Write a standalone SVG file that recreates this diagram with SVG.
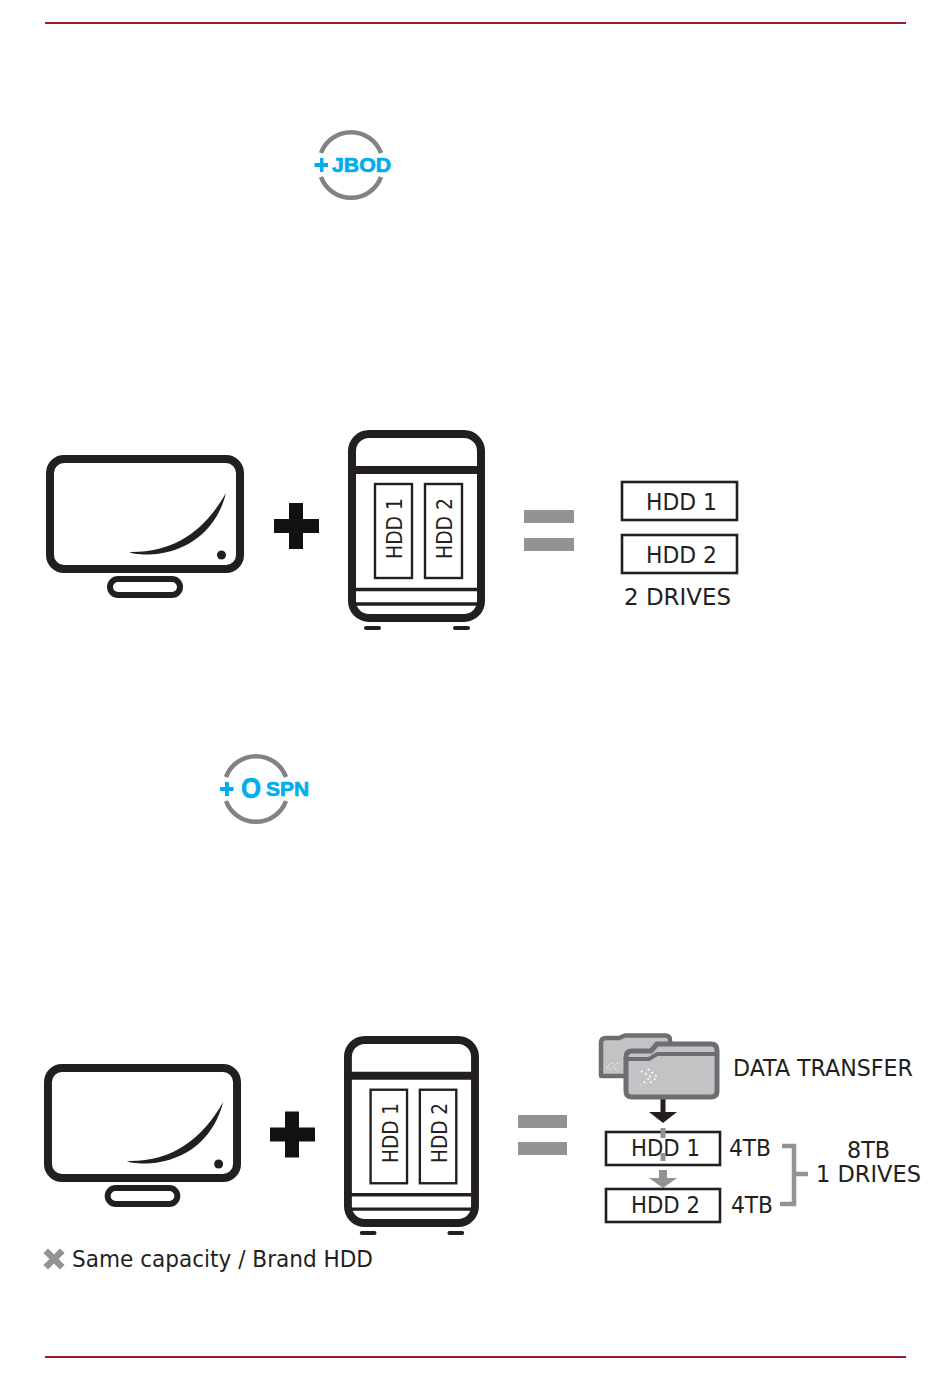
<svg xmlns="http://www.w3.org/2000/svg" xmlns:xlink="http://www.w3.org/1999/xlink" width="950" height="1381" viewBox="0 0 950 1381">
<style>
.t{font-family:"DejaVu Sans",sans-serif;font-size:23px;fill:#231f20}
.r{font-size:20.500px}
.b{font-family:"Liberation Sans",Arial,sans-serif;font-weight:bold;fill:#00aeef;stroke:#00aeef;stroke-width:.7}
.k{fill:none;stroke:#231f20}
.g{fill:#939393}
.red{stroke:#a0182f;stroke-width:2}
.arc{fill:none;stroke:#808285;stroke-width:4.500}
.box{fill:#fff;stroke:#231f20;stroke-width:2.600}
</style>
<defs>
<g id="monitor">
<rect class="k" x="50" y="459" width="190" height="110" rx="14" stroke-width="8"/>
<rect class="k" x="110" y="579" width="70" height="16" rx="8" stroke-width="6"/>
<path d="M226 493C205 530 175 553 129 552C135 555 150 555 160 553.500C195 548 218 525 226 493Z" fill="#231f20"/>
<circle cx="221.500" cy="555" r="4.500" fill="#231f20"/>
</g>
<g id="nas">
<rect class="k" x="352" y="434" width="129" height="184" rx="17" stroke-width="8"/>
<path d="M352 470H481" class="k" stroke-width="8"/>
<path d="M352 589.500H481" class="k" stroke-width="3.500"/>
<path d="M352 604H481" class="k" stroke-width="3.500"/>
<path d="M366 628H379M455 628H468" class="k" stroke-width="4" stroke-linecap="round"/>
<rect class="k" x="375" y="484" width="37" height="94" stroke-width="2.400"/>
<rect class="k" x="425" y="484" width="37" height="94" stroke-width="2.400"/>
</g>
<path id="plus" d="M289 503H303V519H319V533H303V549H289V533H274V519H289Z" fill="#111"/>
</defs>

<g id="connectors">
<path class="red" d="M45 23H906"/>
<path class="red" d="M45 1357H906"/>
<path d="M782 1146H794V1204H780M794 1174H808" fill="none" stroke="#939393" stroke-width="4.500"/>
<path d="M663 1099V1113" stroke="#231f20" stroke-width="5"/>
<path d="M649 1112H677L663 1123Z" fill="#231f20"/>
<path d="M663 1170V1179" stroke="#939393" stroke-width="8"/>
<path d="M649 1178H677L663 1188Z" class="g"/>
</g>

<g id="jbod-icon">
<path class="arc" d="M321 153A32 32 0 0 1 381 153"/>
<path class="arc" d="M321 177A32 32 0 0 0 381 177"/>
<path d="M320 158H323.500V163H328V167H323.500V172H320V167H314.500V163H320Z" fill="#00aeef"/>
<text class="b" x="332" y="172" font-size="21" textLength="59" lengthAdjust="spacingAndGlyphs">JBOD</text>
</g>

<g id="monitor-1"><use xlink:href="#monitor"/></g>
<g id="plus-1"><use xlink:href="#plus"/></g>
<g id="nas-1">
<use xlink:href="#nas"/>
<text class="t r" transform="translate(402,559) rotate(-90)" textLength="61" lengthAdjust="spacingAndGlyphs">HDD 1</text>
<text class="t r" transform="translate(452,559) rotate(-90)" textLength="61" lengthAdjust="spacingAndGlyphs">HDD 2</text>
</g>
<g id="equals-1"><rect class="g" x="524" y="510" width="50" height="13"/><rect class="g" x="524" y="538" width="50" height="13"/></g>
<g id="hdd-1"><rect class="box" x="622" y="482" width="115" height="38"/><text class="t" x="646" y="510" textLength="71" lengthAdjust="spacingAndGlyphs">HDD 1</text></g>
<g id="hdd-2"><rect class="box" x="622" y="535" width="115" height="38"/><text class="t" x="646" y="563" textLength="71" lengthAdjust="spacingAndGlyphs">HDD 2</text></g>
<g id="drives-label"><text class="t" x="624" y="605" textLength="107" lengthAdjust="spacingAndGlyphs">2 DRIVES</text></g>

<g id="spn-icon">
<path class="arc" d="M226 777A32 32 0 0 1 286 777"/>
<path class="arc" d="M226 801A32 32 0 0 0 286 801"/>
<path d="M225 782H229V787H233.500V791H229V796H225V791H220V787H225Z" fill="#00aeef"/>
<text class="b" x="241" y="798" font-size="29" textLength="20" lengthAdjust="spacingAndGlyphs">O</text>
<text class="b" x="266" y="796" font-size="20" textLength="43" lengthAdjust="spacingAndGlyphs">SPN</text>
</g>

<g id="monitor-2"><use xlink:href="#monitor" transform="translate(44,1064) scale(.995,1) translate(-46,-455)"/></g>
<g id="plus-2"><use xlink:href="#plus" transform="translate(-4,608.500)"/></g>
<g id="nas-2">
<use xlink:href="#nas" transform="translate(344,1036) scale(.985,.995) translate(-348,-430)"/>
<text class="t r" transform="translate(398,1163) rotate(-90)" textLength="60" lengthAdjust="spacingAndGlyphs">HDD 1</text>
<text class="t r" transform="translate(447,1163) rotate(-90)" textLength="60" lengthAdjust="spacingAndGlyphs">HDD 2</text>
</g>
<g id="equals-2"><rect class="g" x="518" y="1115" width="49" height="13"/><rect class="g" x="518" y="1142" width="49" height="13"/></g>

<g id="folders">
<path d="M601 1076V1043Q601 1038 606 1038H619L625 1035.500H665Q670 1035.500 670 1040V1076Z" fill="#c2c3c5" stroke="#6d6e71" stroke-width="4.500" stroke-linejoin="round"/>
<path d="M626 1091V1057Q626 1051 632 1051H651L657 1044H711Q717 1044 717 1050V1091Q717 1097 711 1097H632Q626 1097 626 1091Z" fill="#c2c3c5" stroke="#6d6e71" stroke-width="5" stroke-linejoin="round"/>
<path d="M626 1059H649L657 1054H717" fill="none" stroke="#6d6e71" stroke-width="4"/>
<path d="M612 1063L607 1067L612 1071M618 1063L613 1067L618 1071" fill="none" stroke="#fff" stroke-width="1" stroke-dasharray="1.500 1.500"/>
<path d="M641 1071L651 1077L641 1085M648 1069L657 1077L648 1085" fill="none" stroke="#fff" stroke-width="1.800" stroke-dasharray="1.800 3"/>
</g>
<g id="data-transfer-label"><text class="t" x="733" y="1076" textLength="180" lengthAdjust="spacingAndGlyphs">DATA TRANSFER</text></g>

<g id="hdd-3"><rect class="box" x="606" y="1132" width="114" height="33"/><text class="t" x="631" y="1156" textLength="69" lengthAdjust="spacingAndGlyphs">HDD 1</text>
<path d="M663 1128V1138M663 1153V1161" stroke="#939393" stroke-width="5"/></g>
<g id="hdd-4"><rect class="box" x="606" y="1189" width="114" height="33"/><text class="t" x="631" y="1213" textLength="69" lengthAdjust="spacingAndGlyphs">HDD 2</text></g>
<g id="size-labels"><text class="t" x="729" y="1156" textLength="42" lengthAdjust="spacingAndGlyphs">4TB</text><text class="t" x="731" y="1213" textLength="42" lengthAdjust="spacingAndGlyphs">4TB</text></g>
<g id="total-label"><text class="t" x="847" y="1158" textLength="43" lengthAdjust="spacingAndGlyphs">8TB</text><text class="t" x="816" y="1182" textLength="105" lengthAdjust="spacingAndGlyphs">1 DRIVES</text></g>

<g id="note">
<path d="M48 1253L60 1265M60 1253L48 1265" stroke="#939393" stroke-width="6.500" stroke-linecap="square"/>
<text class="t" x="72" y="1267" textLength="301" lengthAdjust="spacingAndGlyphs">Same capacity / Brand HDD</text>
</g>
</svg>
